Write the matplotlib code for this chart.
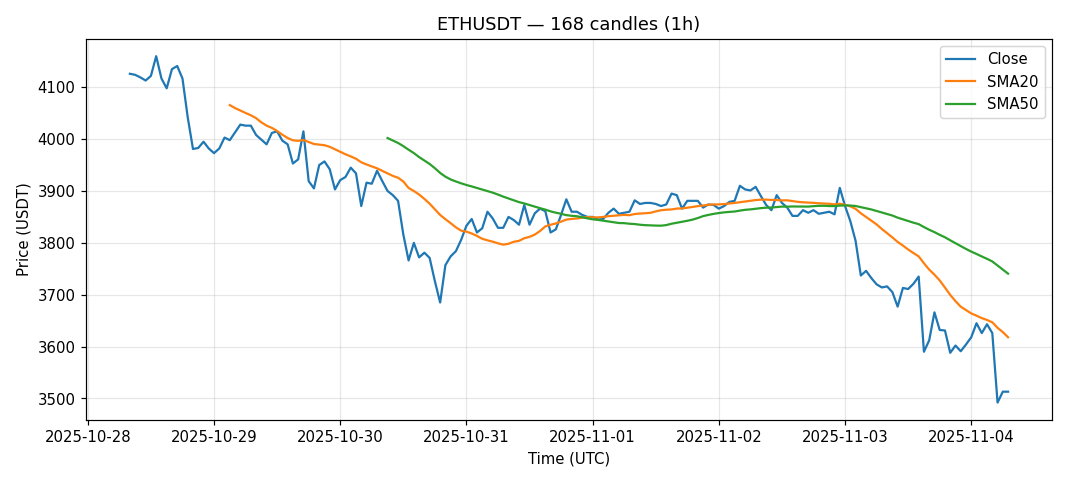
import matplotlib
matplotlib.use("Agg")
import matplotlib.pyplot as plt
import matplotlib.dates as mdates
import numpy as np
import pandas as pd

start_time = "2025-10-28 08:00"
n_candles = 168

close = [
    4126, 4124, 4119, 4113, 4122, 4160, 4117, 4098, 4135, 4141,
    4117, 4042, 3981, 3983, 3995, 3982, 3973, 3982, 4003, 3998,
    4013, 4028, 4026, 4026, 4008, 3999, 3990, 4012, 4015, 3997,
    3990, 3953, 3961, 4015, 3919, 3905, 3950, 3957, 3942, 3903,
    3921, 3927, 3945, 3934, 3871, 3916, 3914, 3939, 3919, 3900,
    3892, 3881, 3816, 3766, 3800, 3772, 3781, 3771, 3726, 3685,
    3757, 3774, 3784, 3806, 3833, 3846, 3820, 3828, 3860, 3847,
    3829, 3829, 3850, 3844, 3835, 3873, 3835, 3857, 3866, 3861,
    3820, 3826, 3854, 3884, 3860, 3860, 3854, 3850, 3850, 3845,
    3846, 3858, 3866, 3856, 3858, 3860, 3882, 3875, 3877, 3877,
    3875, 3871, 3874, 3895, 3892, 3866, 3881, 3881, 3881, 3868,
    3874, 3873, 3866, 3871, 3879, 3881, 3910, 3903, 3901, 3908,
    3890, 3873, 3863, 3892, 3877, 3868, 3852, 3852, 3863, 3858,
    3863, 3856, 3858, 3860, 3855, 3906, 3871, 3842, 3804, 3737,
    3746, 3732, 3720, 3714, 3716, 3705, 3677, 3713, 3711, 3721,
    3735, 3590, 3612, 3666, 3632, 3631, 3588, 3602, 3591, 3604,
    3618, 3645, 3626, 3643, 3626, 3492, 3513, 3513,
]

times = pd.date_range(start_time, periods=n_candles, freq="h")
s = pd.Series(close, index=times)
sma20 = s.rolling(20).mean()
sma50 = s.rolling(50).mean()

DPI = 106.8
fig = plt.figure(figsize=(10, 4.505), dpi=DPI)
ax = fig.add_axes([0.0805, 0.127, 0.9045, 0.792])
ax.plot(times, s.values, label="Close", color="#1f77b4", lw=1.5)
ax.plot(times, sma20.values, label="SMA20", color="#ff7f0e", lw=1.5)
ax.plot(times, sma50.values, label="SMA50", color="#2ca02c", lw=1.5)
ax.set_title("ETHUSDT — 168 candles (1h)")
ax.set_xlabel("Time (UTC)")
ax.set_ylabel("Price (USDT)")
ax.grid(True, alpha=0.3)
ax.xaxis.set_major_locator(mdates.DayLocator())
ax.xaxis.set_major_formatter(mdates.DateFormatter("%Y-%m-%d"))
ax.legend(loc="upper right")
fig.savefig("out.png", dpi=DPI)
